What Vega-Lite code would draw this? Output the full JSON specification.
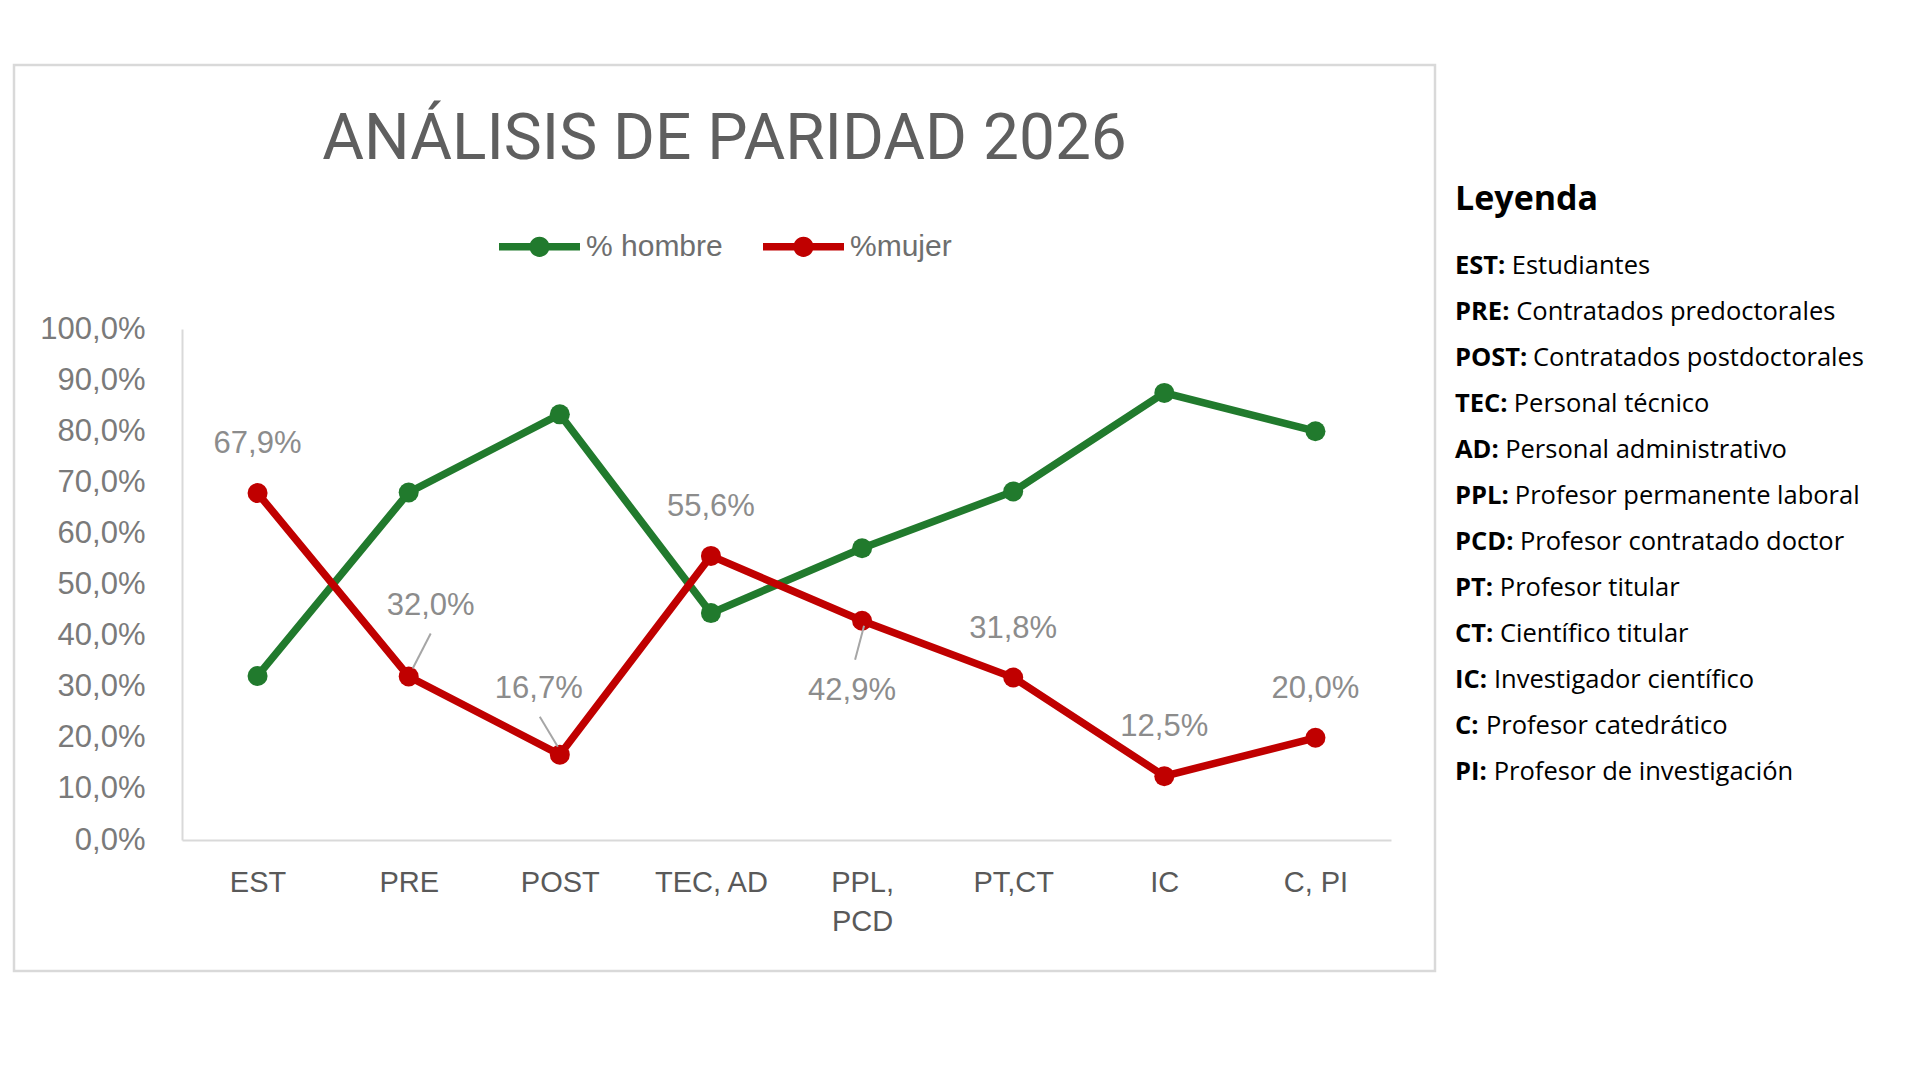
{
  "$schema": "https://vega.github.io/schema/vega-lite/v6.json",
  "background": "white",
  "padding": {"left": 12, "top": 63, "right": 0, "bottom": 0},
  "spacing": 18,
  "hconcat": [
    {
      "width": 1421,
      "height": 906,
      "view": {"stroke": "#d9d9d9", "strokeWidth": 2.5},
      "title": {
        "text": "ANÁLISIS DE PARIDAD 2026",
        "font": "Roboto",
        "fontSize": 64,
        "fontWeight": 400,
        "color": "#5f5f5f",
        "anchor": "middle",
        "baseline": "alphabetic",
        "offset": 0,
        "dy": 158
      },
      "data": {
        "values": [
          {"cat": "EST", "serie": "% hombre", "valor": 0.321},
          {"cat": "PRE", "serie": "% hombre", "valor": 0.68},
          {"cat": "POST", "serie": "% hombre", "valor": 0.833},
          {"cat": "TEC, AD", "serie": "% hombre", "valor": 0.444},
          {"cat": "PPL, PCD", "serie": "% hombre", "valor": 0.571},
          {"cat": "PT,CT", "serie": "% hombre", "valor": 0.682},
          {"cat": "IC", "serie": "% hombre", "valor": 0.875},
          {"cat": "C, PI", "serie": "% hombre", "valor": 0.8},
          {"cat": "EST", "serie": "%mujer", "valor": 0.679},
          {"cat": "PRE", "serie": "%mujer", "valor": 0.32},
          {"cat": "POST", "serie": "%mujer", "valor": 0.167},
          {"cat": "TEC, AD", "serie": "%mujer", "valor": 0.556},
          {"cat": "PPL, PCD", "serie": "%mujer", "valor": 0.429},
          {"cat": "PT,CT", "serie": "%mujer", "valor": 0.318},
          {"cat": "IC", "serie": "%mujer", "valor": 0.125},
          {"cat": "C, PI", "serie": "%mujer", "valor": 0.2}
        ]
      },
      "encoding": {
        "x": {
          "field": "cat",
          "type": "nominal",
          "sort": null,
          "scale": {
            "type": "point",
            "domain": ["EST", "PRE", "POST", "TEC, AD", "PPL, PCD", "PT,CT", "IC", "C, PI"],
            "range": [168, 1377],
            "padding": 0.5
          },
          "axis": {
            "title": null,
            "orient": "bottom",
            "offset": -131,
            "ticks": false,
            "grid": false,
            "domainColor": "#d9d9d9",
            "domainWidth": 2,
            "labelAngle": 0,
            "labelFont": "Liberation Sans",
            "labelFontSize": 29,
            "labelColor": "#595959",
            "labelPadding": 28,
            "labelLineHeight": 39,
            "labelOverlap": false,
            "labelBound": false,
            "labelExpr": "datum.label == 'PPL, PCD' ? ['PPL,', 'PCD'] : datum.label"
          }
        },
        "y": {
          "field": "valor",
          "type": "quantitative",
          "scale": {"domain": [0, 1], "range": [775, 264], "nice": false},
          "axis": {
            "title": null,
            "orient": "left",
            "offset": -168,
            "values": [0, 0.1, 0.2, 0.3, 0.4, 0.5, 0.6, 0.7, 0.8, 0.9, 1],
            "format": ".1%",
            "ticks": false,
            "grid": false,
            "domainColor": "#d9d9d9",
            "domainWidth": 2,
            "labelFont": "Liberation Sans",
            "labelFontSize": 31,
            "labelColor": "#7a7a7a",
            "labelPadding": 37
          }
        }
      },
      "layer": [
        {
          "mark": {"type": "line", "strokeWidth": 7.5},
          "encoding": {
            "color": {
              "field": "serie",
              "type": "nominal",
              "scale": {"domain": ["% hombre", "%mujer"], "range": ["#217a2d", "#c00000"]},
              "legend": {
                "title": null,
                "orient": "none",
                "legendX": 485,
                "legendY": 141,
                "direction": "horizontal",
                "symbolType": "M-1,-0.09L1,-0.09L1,0.09L-1,0.09Z M-0.25,0A0.25,0.25,0,1,1,0.25,0A0.25,0.25,0,1,1,-0.25,0Z",
                "symbolSize": 6561,
                "symbolStrokeWidth": 0,
                "labelFont": "Liberation Sans",
                "labelFontSize": 30,
                "labelColor": "#6e6e6e",
                "labelOffset": 6,
                "columnPadding": 40,
                "encode": {
                  "symbols": {
                    "update": {
                      "fill": {"scale": "color", "field": "value"},
                      "stroke": {"value": "transparent"},
                      "opacity": {"value": 1}
                    }
                  }
                }
              }
            }
          }
        },
        {
          "mark": {"type": "point", "filled": true, "size": 400, "opacity": 1},
          "encoding": {
            "color": {"field": "serie", "type": "nominal"}
          }
        },
        {
          "transform": [
            {"filter": "datum.serie == '%mujer' && indexof(['PRE', 'POST', 'PPL, PCD'], datum.cat) < 0"}
          ],
          "mark": {"type": "text", "dy": -49, "font": "Liberation Sans", "fontSize": 31, "color": "#8c8c8c"},
          "encoding": {"text": {"field": "valor", "type": "quantitative", "format": ".1%"}}
        },
        {
          "transform": [{"filter": "datum.serie == '%mujer' && datum.cat == 'PRE'"}],
          "mark": {"type": "text", "dx": 22, "dy": -70, "font": "Liberation Sans", "fontSize": 31, "color": "#8c8c8c"},
          "encoding": {"text": {"field": "valor", "type": "quantitative", "format": ".1%"}}
        },
        {
          "transform": [{"filter": "datum.serie == '%mujer' && datum.cat == 'POST'"}],
          "mark": {"type": "text", "dx": -21, "dy": -66, "font": "Liberation Sans", "fontSize": 31, "color": "#8c8c8c"},
          "encoding": {"text": {"field": "valor", "type": "quantitative", "format": ".1%"}}
        },
        {
          "transform": [{"filter": "datum.serie == '%mujer' && datum.cat == 'PPL, PCD'"}],
          "mark": {"type": "text", "dx": -10, "dy": 70, "font": "Liberation Sans", "fontSize": 31, "color": "#8c8c8c"},
          "encoding": {"text": {"field": "valor", "type": "quantitative", "format": ".1%"}}
        },
        {
          "transform": [{"filter": "datum.serie == '%mujer' && datum.cat == 'PRE'"}],
          "mark": {"type": "rule", "color": "#a6a6a6", "strokeWidth": 2, "xOffset": 4, "yOffset": -8, "x2Offset": 22, "y2Offset": -43},
          "encoding": {"x2": {"field": "cat"}, "y2": {"field": "valor"}}
        },
        {
          "transform": [{"filter": "datum.serie == '%mujer' && datum.cat == 'POST'"}],
          "mark": {"type": "rule", "color": "#a6a6a6", "strokeWidth": 2, "xOffset": -2, "yOffset": -8, "x2Offset": -20, "y2Offset": -38},
          "encoding": {"x2": {"field": "cat"}, "y2": {"field": "valor"}}
        },
        {
          "transform": [{"filter": "datum.serie == '%mujer' && datum.cat == 'PPL, PCD'"}],
          "mark": {"type": "rule", "color": "#a6a6a6", "strokeWidth": 2, "xOffset": 2, "yOffset": 5, "x2Offset": -7, "y2Offset": 39},
          "encoding": {"x2": {"field": "cat"}, "y2": {"field": "valor"}}
        }
      ]
    },
    {
      "width": 440,
      "height": 906,
      "view": {"stroke": null},
      "title": {
        "text": "Leyenda",
        "font": "Open Sans",
        "fontSize": 34,
        "fontWeight": "bold",
        "color": "#000000",
        "anchor": "start",
        "baseline": "alphabetic",
        "offset": 0,
        "dy": 179
      },
      "data": {
        "values": [
          {"code": "EST:", "desc": "Estudiantes"},
          {"code": "PRE:", "desc": "Contratados predoctorales"},
          {"code": "POST:", "desc": "Contratados postdoctorales"},
          {"code": "TEC:", "desc": "Personal técnico"},
          {"code": "AD:", "desc": "Personal administrativo"},
          {"code": "PPL:", "desc": "Profesor permanente laboral"},
          {"code": "PCD:", "desc": "Profesor contratado doctor"},
          {"code": "PT:", "desc": "Profesor titular"},
          {"code": "CT:", "desc": "Científico titular"},
          {"code": "IC:", "desc": "Investigador científico"},
          {"code": "C:", "desc": "Profesor catedrático"},
          {"code": "PI:", "desc": "Profesor de investigación"}
        ]
      },
      "transform": [
        {
          "calculate": "25.5 * (0.6 + 0.683 * (length(datum.code) - length(replace(datum.code, regexp('A', 'g'), ''))) + 0.64 * (length(datum.code) - length(replace(datum.code, regexp('C', 'g'), ''))) + 0.73 * (length(datum.code) - length(replace(datum.code, regexp('D', 'g'), ''))) + 0.549 * (length(datum.code) - length(replace(datum.code, regexp('E', 'g'), ''))) + 0.32 * (length(datum.code) - length(replace(datum.code, regexp('I', 'g'), ''))) + 0.534 * (length(datum.code) - length(replace(datum.code, regexp('L', 'g'), ''))) + 0.772 * (length(datum.code) - length(replace(datum.code, regexp('O', 'g'), ''))) + 0.632 * (length(datum.code) - length(replace(datum.code, regexp('P', 'g'), ''))) + 0.675 * (length(datum.code) - length(replace(datum.code, regexp('R', 'g'), ''))) + 0.56 * (length(datum.code) - length(replace(datum.code, regexp('S', 'g'), ''))) + 0.566 * (length(datum.code) - length(replace(datum.code, regexp('T', 'g'), ''))))",
          "as": "w"
        }
      ],
      "encoding": {
        "y": {
          "field": "code",
          "type": "ordinal",
          "sort": null,
          "scale": {
            "type": "point",
            "domain": ["EST:", "PRE:", "POST:", "TEC:", "AD:", "PPL:", "PCD:", "PT:", "CT:", "IC:", "C:", "PI:"],
            "range": [201, 707],
            "padding": 0
          },
          "axis": null
        }
      },
      "layer": [
        {
          "mark": {"type": "text", "align": "left", "baseline": "middle", "font": "Open Sans", "fontSize": 25.5, "fontWeight": "bold", "color": "#000000"},
          "encoding": {
            "x": {"datum": 0, "type": "quantitative", "scale": {"domain": [0, 440], "range": [0, 440]}, "axis": null},
            "text": {"field": "code"}
          }
        },
        {
          "mark": {"type": "text", "align": "left", "baseline": "middle", "font": "Open Sans", "fontSize": 25.5, "color": "#000000"},
          "encoding": {
            "x": {"field": "w", "type": "quantitative", "axis": null},
            "text": {"field": "desc"}
          }
        }
      ]
    }
  ],
  "config": {
    "locale": {
      "number": {"decimal": ",", "thousands": ".", "grouping": [3], "currency": ["", " €"]}
    }
  }
}
